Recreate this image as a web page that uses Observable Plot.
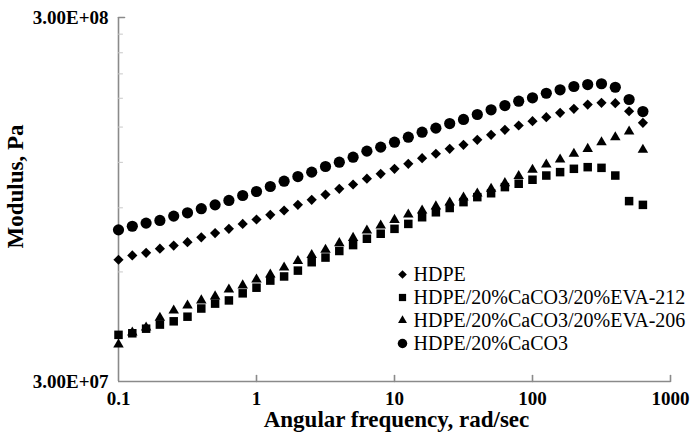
<!DOCTYPE html>
<html><head><meta charset="utf-8">
<script src="https://cdn.jsdelivr.net/npm/d3@7"></script>
<script src="https://cdn.jsdelivr.net/npm/@observablehq/plot@0.6"></script>
<style>body{margin:0;background:#fff}#chart{width:690px;height:440px}</style>
</head><body><div id="chart"></div>
<script>
// Angular frequency, rad/s
const freq = [0.1, 0.1259, 0.1585, 0.1995, 0.2512, 0.3162, 0.3981, 0.5012, 0.631, 0.7943,
  1, 1.259, 1.585, 1.995, 2.512, 3.162, 3.981, 5.012, 6.31, 7.943,
  10, 12.59, 15.85, 19.95, 25.12, 31.62, 39.81, 50.12, 63.1, 79.43,
  100, 125.9, 158.5, 199.5, 251.2, 316.2, 398.1, 501.2, 631];
// Modulus, MPa
const hdpe = [64.8, 66.6, 67.7, 69.5, 70.9, 72.4, 74.7, 76.7, 78.8, 81.3,
  83.6, 86.1, 88.5, 91.7, 94.7, 97.9, 101.5, 104.3, 108.2, 111.6,
  115.2, 118.9, 123.2, 126.7, 130.7, 134.1, 138.4, 142.8, 147.4, 151.5,
  155.7, 159.7, 164.2, 168.4, 173.0, 174.9, 174.5, 165.8, 154.1];
const eva212 = [40.3, 40.7, 41.9, 43.0, 43.9, 45.2, 47.6, 49.1, 50.1, 52.4,
  54.3, 56.8, 58.3, 60.5, 63.8, 65.7, 68.5, 71.1, 74.0, 76.4,
  78.8, 81.3, 84.8, 87.5, 89.9, 93.3, 96.3, 98.7, 102.6, 104.8,
  107.5, 110.4, 112.8, 115.2, 116.4, 115.9, 110.4, 93.9, 91.7];
const eva206 = [37.9, 40.9, 42.2, 44.9, 47.0, 48.5, 50.1, 51.4, 53.7, 55.1,
  57.2, 59.0, 61.7, 64.3, 66.8, 69.0, 72.0, 74.4, 78.0, 80.5,
  83.4, 86.3, 88.5, 90.8, 93.1, 96.1, 98.5, 101.5, 105.2, 110.1,
  114.5, 118.4, 122.2, 126.7, 130.7, 136.3, 140.7, 145.9, 129.9];
const caco3 = [78.3, 80.1, 81.7, 83.1, 85.4, 87.2, 89.5, 91.7, 94.3, 97.3,
  99.8, 103.0, 106.5, 109.7, 112.8, 116.9, 120.1, 124.0, 128.8, 132.1,
  136.3, 140.7, 145.2, 149.0, 153.4, 157.4, 162.4, 167.3, 171.9, 176.7,
  180.5, 185.8, 189.9, 193.9, 196.3, 197.3, 193.0, 178.6, 165.5];

const seriesNames = ["HDPE", "HDPE/20%CaCO3/20%EVA-212", "HDPE/20%CaCO3/20%EVA-206", "HDPE/20%CaCO3"];
const seriesValues = [hdpe, eva212, eva206, caco3];
const seriesSymbols = ["diamond2", "square", "triangle", "circle"];
const seriesR = [4.6, 4.8, 3.9, 5.6];

const xTicks = [0.1, 1, 10, 100, 1000];
const xTickLabels = ["0.1", "1", "10", "100", "1000"];
const yTicks = [3e7, 3e8];
const yTickLabels = ["3.00E+07", "3.00E+08"];
const yMinorTicks = [6e7, 9e7, 1.2e8, 1.5e8, 1.8e8, 2.1e8, 2.4e8, 2.7e8];

const serif = "'Liberation Serif', 'Times New Roman', serif";
const axisColor = "#8a8a8a";
const tickShape = {draw(ctx, l) { ctx.moveTo(0, 0); ctx.lineTo(0, -l); }};

const marks = [];
// axis lines
marks.push(Plot.ruleX([xTicks[0]], {y1: yTicks[0], y2: yTicks[1], stroke: axisColor, strokeWidth: 1.6}));
marks.push(Plot.ruleY([yTicks[0]], {x1: xTicks[0], x2: xTicks[xTicks.length - 1], stroke: axisColor, strokeWidth: 1.6}));
// ticks (inside)
marks.push(Plot.vector(xTicks.slice(1), {x: d => d, y: yTicks[0], length: 6, rotate: 0, anchor: "start", shape: tickShape, stroke: axisColor, strokeWidth: 1.6}));
marks.push(Plot.vector([yTicks[1]], {x: xTicks[0], y: d => d, length: 6, rotate: 90, anchor: "start", shape: tickShape, stroke: axisColor, strokeWidth: 1.6}));
marks.push(Plot.vector(yMinorTicks, {x: xTicks[0], y: d => d, length: 4, rotate: 90, anchor: "start", shape: tickShape, stroke: "#c8c8c8", strokeWidth: 1}));

// data
seriesValues.forEach((vals, i) => {
  const rows = freq.map((f, j) => ({f, g: vals[j] * 1e6}));
  marks.push(Plot.dot(rows, {x: "f", y: "g", symbol: () => seriesSymbols[i], r: seriesR[i], fill: "black", stroke: "none"}));
});

// tick labels
marks.push(Plot.text(xTicks, {x: d => d, frameAnchor: "bottom", dy: 17, lineAnchor: "middle", textAnchor: "middle",
  text: (d, i) => xTickLabels[i], fontFamily: serif, fontWeight: "bold", fontSize: 19, fill: "black"}));
marks.push(Plot.text(yTicks, {y: d => d, frameAnchor: "left", dx: -10, textAnchor: "end", lineAnchor: "middle",
  text: (d, i) => yTickLabels[i], fontFamily: serif, fontWeight: "bold", fontSize: 19, fill: "black"}));
// axis titles
marks.push(Plot.text(["Angular frequency, rad/sec"], {frameAnchor: "bottom", dy: 38.5, dx: 2, lineAnchor: "middle", textAnchor: "middle",
  text: d => d, fontFamily: serif, fontWeight: "bold", fontSize: 23, fill: "black"}));
marks.push(Plot.text(["Modulus, Pa"], {frameAnchor: "left", dx: -103, dy: -13, rotate: -90, lineAnchor: "middle", textAnchor: "middle",
  text: d => d, fontFamily: serif, fontWeight: "bold", fontSize: 23, fill: "black"}));

// legend
seriesNames.forEach((name, i) => {
  const dy = 257 + i * 23;
  marks.push(Plot.dot([name], {frameAnchor: "top-left", dx: 284, dy, symbol: () => seriesSymbols[i], r: seriesR[i] * 0.85, fill: "black", stroke: "none"}));
  marks.push(Plot.text([name], {frameAnchor: "top-left", dx: 295, dy, text: d => d, textAnchor: "start", lineAnchor: "middle",
    fontFamily: serif, fontSize: 20, fill: "black"}));
});

const chart = Plot.plot({
  width: 690, height: 440,
  marginLeft: 118, marginRight: 20, marginTop: 17, marginBottom: 59,
  x: {type: "log", domain: [xTicks[0], xTicks[xTicks.length - 1]], axis: null},
  y: {type: "log", domain: [yTicks[0], yTicks[1]], axis: null},
  style: {background: "white", overflow: "visible"},
  marks
});
document.getElementById("chart").appendChild(chart);
</script></body></html>
